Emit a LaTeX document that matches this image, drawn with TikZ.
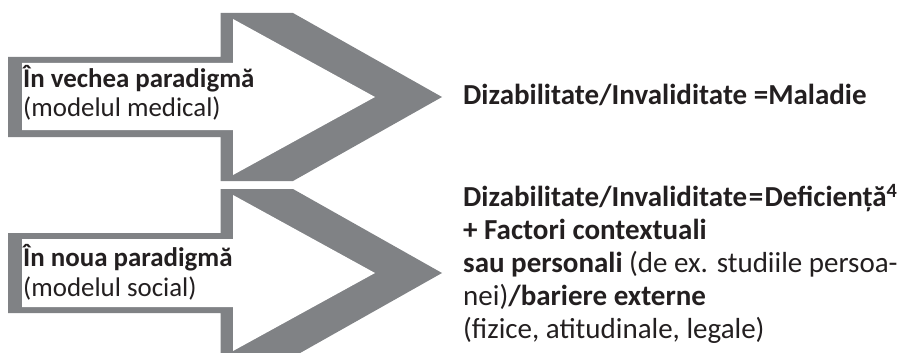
\documentclass[tikz,border=0pt]{standalone}
\usepackage{fontspec}
\setmainfont{Carlito}
\definecolor{arrowgray}{RGB}{128,130,133}
\definecolor{txt}{RGB}{35,31,32}
\tikzset{
  outerarrow/.style={fill=arrowgray, draw=none},
  innerarrow/.style={fill=white, draw=none},
  bigtxt/.style={anchor=base west, inner sep=0pt, text=txt, font=\fontsize{29}{33}\selectfont},
  lbltxt/.style={anchor=base west, inner sep=0pt, text=txt, font=\fontsize{26.9}{30}\selectfont}
}
\begin{document}
\begin{tikzpicture}[x=1pt,y=-1pt]
\useasboundingbox (0,0) rectangle (903,353);
% arrow 1
\fill[outerarrow] (8,57) -- (220.7,57) -- (220.7,13) -- (293,13) -- (442,97) -- (293,181) -- (220.7,181) -- (220.7,137) -- (8,137) -- cycle;
\fill[innerarrow] (22,63) -- (233,63) -- (233,19) -- (375,97) -- (233,175) -- (233,130) -- (22,130) -- cycle;
% arrow 2
\begin{scope}
\clip (0,0) rectangle (903,353);
\fill[outerarrow] (8,233) -- (220.7,233) -- (220.7,189) -- (293,189) -- (442,273) -- (293,357) -- (220.7,357) -- (220.7,313) -- (8,313) -- cycle;
\fill[innerarrow] (22,239) -- (233,239) -- (233,195) -- (375,273) -- (233,351) -- (233,307) -- (22,307) -- cycle;
\end{scope}
% labels
\node[lbltxt] (l1a) at (23,88) {\textbf{În vechea paradigmă}};
\node[lbltxt] (l1b) at (23,117) {(modelul medical)};
\node[lbltxt] (l2a) at (23,266) {\textbf{În noua paradigmă}};
\node[lbltxt] (l2b) at (23,296) {(modelul social)};
% right texts
\node[bigtxt] (r1) at (463,105) {\textbf{Dizabilitate/Invaliditate =Maladie}};
\node[bigtxt] (r2a) at (463,206.5) {\textbf{Dizabilitate/Invaliditate\hspace{1.5pt}=\hspace{1.5pt}Deficiență\textsuperscript{4}}};
\node[bigtxt] (r2b) at (463,239.5) {\textbf{+ Factori contextuali}};
\node[bigtxt] (r2c) at (463,272.5) {\textbf{sau personali} (de ex. studiile persoa-};
\node[bigtxt] (r2d) at (463,305.5) {nei)\textbf{/bariere externe}};
\node[bigtxt] (r2e) at (463,338.5) {(fizice, atitudinale, legale)};
\end{tikzpicture}
\end{document}
